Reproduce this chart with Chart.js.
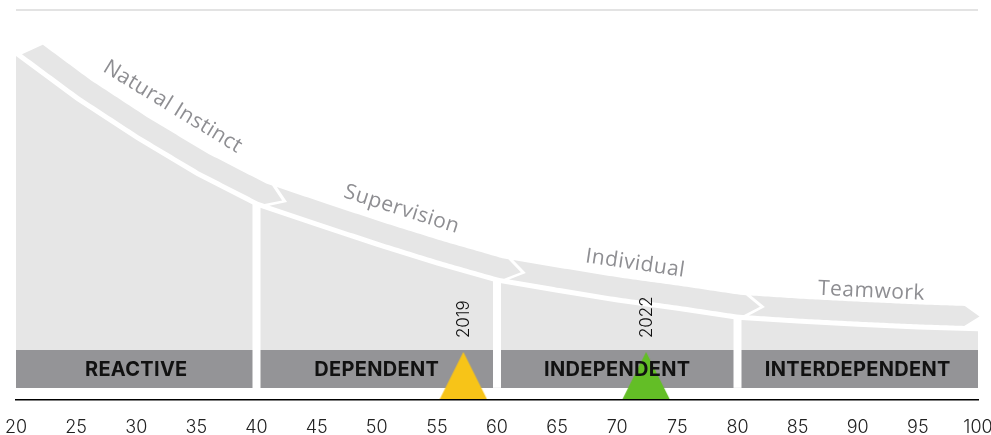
<!DOCTYPE html>
<html>
<head>
<meta charset="utf-8">
<script src="https://cdn.jsdelivr.net/npm/chart.js@4.4.1/dist/chart.umd.min.js"></script>
<style>
  html, body { margin: 0; padding: 0; background: #fff; }
</style>
</head>
<body>
<canvas id="maturityChart" width="991" height="435"></canvas>
<script>
/* Values */
const curveX = [20, 25, 30, 35, 40, 45, 50, 55, 60, 65, 70, 75, 80, 85, 90, 95, 100];
const curveY = [88.2, 76.8, 66.7, 57.5, 49.6, 44.4, 39.3, 34.5, 30.1, 27.5, 25.0, 22.9, 20.6, 19.6, 18.8, 18.1, 17.6];
const stageBounds = [20, 40, 60, 80, 100];
const stageLabels = ['REACTIVE', 'DEPENDENT', 'INDEPENDENT', 'INTERDEPENDENT'];
const phaseLabels = ['Natural Instinct', 'Supervision', 'Individual', 'Teamwork'];
const markerYears = ['2019', '2022'];
const markerValues = [57.2, 72.4];
const markerColors = ['#F7C418', '#63BE26'];

/* Styles */
const AREA_GRAY = '#e6e6e6';
const BOX_GRAY = '#949497';
const TEXT_GRAY = '#8e8e92';
const BOX_TOP = 12.8, BOX_BOTTOM = 3.1, MARKER_Y = 6.3;
const STRIPE = 5, BAND = 20, POINT = 15, BAND_GAP = 5, SHIFT = 6;
const LABEL_OFF = [47, 43, 41, 36]; // distance of each phase name from the curve, px

const curveAt = function(v) {
    return curveY[curveX.indexOf(v)];
}

// triangle marker drawn on a small canvas, used as a point style
const makeTriangle = function(color) {
    const c = document.createElement('canvas');
    c.width = 48;
    c.height = 47;
    const g = c.getContext('2d');
    g.fillStyle = color;
    g.beginPath();
    g.moveTo(24, 0);
    g.lineTo(47.5, 47);
    g.lineTo(0.5, 47);
    g.closePath();
    g.fill();
    return c;
}

// point + tangent + normal along the curve, for a pixel x
const makeSampler = function(pts) {
    const segT = [];
    for (let i = 0; i < pts.length - 1; i++) {
        const dx = pts[i + 1].x - pts[i].x, dy = pts[i + 1].y - pts[i].y;
        const l = Math.hypot(dx, dy);
        segT.push({x: dx / l, y: dy / l});
    }
    const vT = pts.map((_, i) => {
        const a = segT[Math.max(i - 1, 0)], b = segT[Math.min(i, segT.length - 1)];
        const l = Math.hypot(a.x + b.x, a.y + b.y);
        return {x: (a.x + b.x) / l, y: (a.y + b.y) / l};
    });
    return function(px) {
        let i = 0;
        while (i < pts.length - 2 && px > pts[i + 1].x) i++;
        const f = (px - pts[i].x) / (pts[i + 1].x - pts[i].x);
        const y = pts[i].y + f * (pts[i + 1].y - pts[i].y);
        let tx = vT[i].x + f * (vT[i + 1].x - vT[i].x);
        let ty = vT[i].y + f * (vT[i + 1].y - vT[i].y);
        const l = Math.hypot(tx, ty);
        tx /= l; ty /= l;
        return {x: px, y: y, tx: tx, ty: ty, nx: ty, ny: -tx};
    }
}

const off = function(s, d) {
    return {x: s.x + s.nx * d, y: s.y + s.ny * d};
}

const stagePlugin = {
    id: 'stages',
    afterDatasetsDraw(chart) {
        const ctx = chart.ctx;
        const xs = chart.scales.x, ys = chart.scales.y;
        const area = chart.chartArea;
        const pts = curveX.map((v, i) => ({x: xs.getPixelForValue(v), y: ys.getPixelForValue(curveY[i])}));
        const at = makeSampler(pts);

        ctx.save();
        // chevron arrows along the curve
        ctx.fillStyle = AREA_GRAY;
        for (let k = 0; k < stageLabels.length; k++) {
            const last = k === stageLabels.length - 1;
            const x0 = k === 0 ? area.left + 3 : xs.getPixelForValue(stageBounds[k]) + SHIFT + BAND_GAP;
            const x0Top = k === 0 ? x0 + 9 : x0;   // first arrow starts with a slanted edge
            const x1 = last ? area.right - POINT + 1 : xs.getPixelForValue(stageBounds[k + 1]) + SHIFT;
            ctx.beginPath();
            let p = off(at(x0), STRIPE);
            ctx.moveTo(p.x, p.y);
            for (let px = x0 + 3; px < x1; px += 3) {
                p = off(at(px), STRIPE);
                ctx.lineTo(p.x, p.y);
            }
            const e = at(x1);
            p = off(e, STRIPE);
            ctx.lineTo(p.x, p.y);
            const m = off(e, STRIPE + BAND / 2);
            ctx.lineTo(m.x + e.tx * POINT, m.y + e.ty * POINT);
            for (let px = x1; px > x0Top; px -= 3) {
                p = off(at(px), STRIPE + BAND);
                ctx.lineTo(p.x, p.y);
            }
            p = off(at(x0Top), STRIPE + BAND);
            ctx.lineTo(p.x, p.y);
            if (k > 0) {
                const s = at(x0);
                const n = off(s, STRIPE + BAND / 2);
                ctx.lineTo(n.x + s.tx * POINT, n.y + s.ty * POINT);
            }
            ctx.closePath();
            ctx.fill();
        }

        // phase names above the arrows
        ctx.fillStyle = TEXT_GRAY;
        ctx.font = '21px "Open Sans"';
        ctx.letterSpacing = '0.5px';
        ctx.textAlign = 'center';
        ctx.textBaseline = 'middle';
        phaseLabels.forEach((label, k) => {
            const v = stageBounds[k] + 0.55 * (stageBounds[k + 1] - stageBounds[k]);
            const s = at(xs.getPixelForValue(v));
            const c = off(s, LABEL_OFF[k]);
            ctx.save();
            ctx.translate(c.x, c.y);
            ctx.rotate(Math.atan2(s.ty, s.tx));
            ctx.fillText(label, 0, 0);
            ctx.restore();
        });

        // stage names in the boxes
        ctx.fillStyle = '#111';
        ctx.font = 'bold 20px Inter';
        ctx.letterSpacing = '0.3px';
        const boxMid = ys.getPixelForValue((BOX_TOP + BOX_BOTTOM) / 2);
        stageLabels.forEach((label, k) => {
            const cx = xs.getPixelForValue((stageBounds[k] + stageBounds[k + 1]) / 2);
            ctx.fillText(label, cx, boxMid + 1);
        });

        // years above the markers
        ctx.font = '300 17px Inter';
        ctx.letterSpacing = '0px';
        ctx.textAlign = 'left';
        const yearBase = ys.getPixelForValue(BOX_TOP) - 12;
        markerYears.forEach((year, i) => {
            ctx.save();
            ctx.translate(xs.getPixelForValue(markerValues[i]) + 1, yearBase);
            ctx.rotate(-Math.PI / 2);
            ctx.fillText(year, 0, 0);
            ctx.restore();
        });
        ctx.restore();
    }
}

const gapSets = stageBounds.slice(1, -1).map((b) => ({
    data: [{x: b, y: BOX_BOTTOM}, {x: b, y: curveAt(b) + 3}],
    borderColor: '#ffffff',
    borderWidth: 8,
    pointRadius: 0,
    fill: false
}));

const ctx = document.getElementById('maturityChart');
new Chart(ctx, {
    type: 'line',
    data: {
        datasets: [
            {
                // year markers
                data: markerValues.map((v) => ({x: v, y: MARKER_Y})),
                showLine: false,
                pointStyle: markerColors.map(makeTriangle),
                pointRadius: 5,
                fill: false
            },
            ...gapSets,
            {
                // stage boxes
                data: [{x: stageBounds[0], y: BOX_TOP}, {x: stageBounds[stageBounds.length - 1], y: BOX_TOP}],
                borderColor: 'rgba(0,0,0,0)',
                borderWidth: 0,
                pointRadius: 0,
                backgroundColor: BOX_GRAY,
                fill: {value: BOX_BOTTOM}
            },
            {
                // area under the curve
                data: curveX.map((v, i) => ({x: v, y: curveY[i]})),
                borderColor: 'rgba(0,0,0,0)',
                borderWidth: 0,
                pointRadius: 0,
                tension: 0,
                backgroundColor: AREA_GRAY,
                fill: {value: BOX_BOTTOM}
            }
        ]
    },
    options: {
        responsive: false,
        animation: false,
        layout: {
            padding: {left: 16, right: 13, top: 10, bottom: 0}
        },
        scales: {
            x: {
                type: 'linear',
                min: 20,
                max: 100,
                ticks: {
                    stepSize: 5,
                    color: '#222',
                    padding: 20,
                    font: {family: 'Inter', size: 18, weight: 300, lineHeight: '16px'}
                },
                grid: {display: false, drawTicks: false},
                border: {display: true, color: '#000', width: 1.5},
                afterFit: (scale) => {
                    // keep the plot edges where the picture has them
                    scale.height = 35;
                    scale.paddingLeft = 0;
                    scale.paddingRight = 0;
                }
            },
            y: {
                min: 0,
                max: 100,
                ticks: {display: false},
                grid: {
                    drawTicks: false,
                    lineWidth: 2,
                    color: (c) => c.tick && c.tick.value === 100 ? '#e3e3e3' : 'rgba(0,0,0,0)'
                },
                border: {display: false},
                afterFit: (scale) => {
                    scale.width = 0;
                }
            }
        },
        plugins: {
            legend: {display: false},
            tooltip: {enabled: false}
        }
    },
    plugins: [stagePlugin]
});
</script>
</body>
</html>
